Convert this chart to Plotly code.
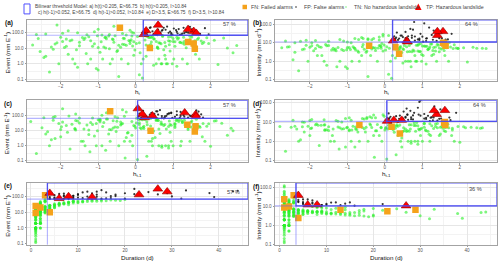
import numpy as np
import plotly.graph_objects as go

# ---------------- rainfall events ----------------
# ordinary events
ord_ht = [-0.85, 0.42, -1.32, 1.12, -0.20, 0.75, -2.10, 0.05, -0.62, 1.55,
          -1.75, 0.98, -0.35, 2.35, -1.05, 0.25, -2.55, 1.70, -0.10, 0.60,
          -1.50, 0.15, 1.30, -0.78, -2.30, 0.88, -0.48, 1.95, -1.20, 0.35,
          -0.05, 1.45, -1.90, 0.70, -0.92, 2.60, -0.30, 1.05, -1.62, 0.48,
          -2.75, 1.25, -0.55, 0.92, -1.38, 0.10, 1.82, -0.70, -2.00, 0.55,
          -0.15, 1.60, -1.10, 0.30, -2.40, 0.80, -0.40, 2.10, -1.55, 1.15,
          -0.95, 0.65, -1.85, 1.38, -0.25, 0.95, -2.20, 0.20, 1.75, -0.82,
          -1.28, 0.40, 2.45, -0.60, -1.68, 0.72, -0.02, 1.20, -2.60, 0.85,
          -0.45, 1.50, -1.15, 0.28, -1.95, 1.02, -0.72, 0.58, 2.20, -0.12,
          -1.42, 0.12, 1.65, -0.88, -2.15, 0.68, -0.33, 1.35, -1.00, 0.45,
          -0.58, 1.90, -1.80, 0.02, 1.10, -1.25, 0.78, -0.18, 2.70, -0.68,
          -2.45, 0.50, -1.58, 1.28, -0.38, 0.90, -1.02, 0.18, 1.58, -0.80,
          -1.35, 0.62, -0.08, 1.00, -2.05, 0.38, -0.50, 1.42, -1.70, 0.82]
ord_ht1 = [-0.70, 0.31, -1.10, 1.25, -0.45, 0.92, -1.85, 0.18, -0.30, 1.40,
           -2.05, 0.70, -0.55, 2.10, -0.80, 0.02, -2.40, 1.85, 0.12, 0.48,
           -1.62, -0.08, 1.05, -0.95, -2.65, 1.10, -0.22, 1.70, -1.45, 0.55,
           -0.25, 1.62, -1.60, 0.45, -1.15, 2.45, -0.10, 0.82, -1.35, 0.70,
           -2.50, 1.45, -0.78, 0.65, -1.20, 0.30, 1.55, -0.52, -2.20, 0.80,
           -0.38, 1.78, -0.88, 0.08, -2.15, 0.95, -0.65, 2.30, -1.75, 0.90,
           -1.25, 0.40, -1.95, 1.20, 0.00, 1.15, -2.35, 0.35, 1.95, -0.60,
           -1.05, 0.20, 2.60, -0.85, -1.40, 0.58, -0.20, 1.35, -2.80, 0.62,
           -0.28, 1.30, -1.38, 0.45, -1.70, 1.22, -0.95, 0.35, 2.00, 0.10,
           -1.60, -0.10, 1.48, -0.68, -1.98, 0.88, -0.50, 1.58, -1.22, 0.25,
           -0.40, 2.15, -2.00, 0.22, 0.88, -1.00, 0.52, -0.35, 2.55, -0.90,
           -2.25, 0.68, -1.82, 1.08, -0.15, 1.05, -0.75, 0.05, 1.80, -1.02,
           -1.55, 0.42, 0.15, 0.78, -2.30, 0.60, -0.72, 1.65, -1.50, 1.00]
ord_E = [12.0, 25.0, 4.5, 38.0, 1.0, 8.0, 22.0, 55.0, 2.0, 15.0,
         30.0, 1.0, 18.0, 45.0, 0.5, 33.0, 6.0, 2.0, 60.0, 9.5,
         14.0, 1.0, 27.0, 40.0, 0.3, 52.0, 7.0, 20.0, 2.0, 48.0,
         3.5, 58.0, 11.0, 1.0, 26.0, 5.0, 42.0, 13.0, 1.0, 0.8,
         16.0, 2.0, 62.0, 6.5, 35.0, 0.2, 24.0, 9.0, 50.0, 1.0,
         28.0, 4.0, 19.0, 57.0, 3.0, 2.0, 11.5, 32.0, 0.6, 44.0,
         5.5, 21.0, 39.0, 1.0, 15.0, 53.0, 8.5, 2.0, 29.0, 47.0,
         1.0, 17.0, 10.0, 36.0, 2.0, 64.0, 7.5, 23.0, 41.0, 1.0,
         0.15, 51.0, 13.0, 3.0, 27.0, 2.0, 59.0, 12.0, 0.9, 34.0,
         48.0, 5.0, 37.0, 2.0, 18.5, 1.0, 43.0, 10.5, 0.4, 56.0,
         24.0, 46.0, 4.0, 20.0, 0.7, 54.0, 3.5, 31.0, 14.5, 1.0,
         2.5, 38.5, 8.0, 49.0, 2.0, 16.5, 61.0, 0.12, 30.0, 10.0,
         44.5, 2.0, 13.5, 26.5, 1.0, 50.5, 6.0, 21.5, 33.5, 1.0]
ord_D = [2, 4, 1, 6, 1, 2, 3, 9, 1, 3,
         5, 1, 4, 8, 1, 7, 1, 2, 12, 3,
         2, 1, 5, 10, 1, 15, 2, 4, 2, 11,
         1, 18, 3, 2, 6, 1, 8, 2, 1, 1,
         3, 1, 14, 2, 7, 1, 5, 3, 9, 1,
         4, 2, 5, 13, 1, 1, 2, 6, 1, 10,
         1, 3, 8, 1, 4, 16, 2, 1, 5, 9,
         2, 3, 2, 6, 1, 20, 1, 4, 7, 1,
         1, 11, 3, 2, 4, 1, 17, 2, 1, 5,
         12, 1, 7, 2, 4, 1, 8, 3, 1, 19,
         3, 9, 2, 5, 1, 10, 1, 6, 3, 1,
         2, 9, 1, 13, 1, 2, 15, 1, 8, 2,
         11, 2, 1, 4, 1, 14, 2, 3, 6, 1]
ord_I = [6.0, 6.2, 4.5, 6.3, 1.0, 4.0, 7.3, 6.1, 2.0, 5.0,
         6.0, 1.0, 4.5, 5.6, 0.5, 4.7, 6.0, 1.0, 5.0, 3.2,
         7.0, 1.0, 5.4, 4.0, 0.3, 3.5, 3.5, 5.0, 1.0, 4.4,
         3.5, 3.2, 3.7, 0.5, 4.3, 5.0, 5.3, 6.5, 1.0, 0.8,
         5.3, 2.0, 4.4, 3.3, 5.0, 0.2, 4.8, 3.0, 5.6, 1.0,
         7.0, 2.0, 3.8, 4.4, 3.0, 2.0, 5.8, 5.3, 0.6, 4.4,
         5.5, 7.0, 4.9, 1.0, 3.8, 3.3, 4.3, 2.0, 5.8, 5.2,
         0.5, 5.7, 5.0, 6.0, 2.0, 3.2, 7.5, 5.8, 5.9, 1.0,
         0.15, 4.6, 4.3, 1.5, 6.8, 2.0, 3.5, 6.0, 0.9, 6.8,
         4.0, 5.0, 5.3, 1.0, 4.6, 1.0, 5.4, 3.5, 0.4, 2.9,
         8.0, 5.1, 2.0, 4.0, 0.7, 5.4, 3.5, 5.2, 4.8, 1.0,
         1.2, 4.3, 8.0, 3.8, 2.0, 8.2, 4.1, 0.12, 3.8, 5.0,
         4.0, 1.0, 9.0, 6.6, 1.0, 3.6, 3.0, 7.2, 5.6, 1.0]

# short intense events
int_ht = [0.35, 0.62, 1.05, 0.48, 1.30, 0.25, 0.88, 1.62, 0.72, 1.18,
          0.42, 1.78, 0.95, 0.28, 1.45, 0.55, 1.10, 0.80, 1.38, 0.68,
          1.00, 0.32, 1.52, 0.92, 1.25, 0.58, 1.68, 0.78, -0.45, -1.20,
          -0.15, -1.85, -0.80, -0.05, -1.50, -0.30, -2.25, -0.62, 0.10, -1.00]
int_ht1 = [0.22, 0.75, 0.92, 0.30, 1.48, 0.40, 1.05, 1.40, 0.55, 1.32,
           0.60, 1.90, 0.78, 0.12, 1.25, 0.68, 1.22, 0.62, 1.58, 0.88,
           1.15, 0.50, 1.72, 0.70, 1.05, 0.38, 1.50, 0.95, -0.60, -1.05,
           -0.02, -1.62, -0.95, 0.10, -1.30, -0.48, -2.00, -0.40, -0.05, -1.25]
int_E = [14.0, 22.0, 26.0, 40.0, 18.0, 65.0, 30.0, 12.0, 55.0, 24.0,
         48.0, 20.0, 90.0, 16.0, 35.0, 27.0, 50.0, 13.0, 25.0, 19.0,
         42.0, 105.0, 17.0, 28.0, 21.0, 11.0, 45.0, 23.0, 15.0, 30.0,
         20.0, 13.0, 50.0, 26.0, 24.0, 17.0, 12.0, 38.0, 22.0, 11.0]
int_D = [1, 1, 1, 2, 1, 3, 2, 1, 3, 1,
         2, 1, 3, 1, 2, 1, 3, 1, 2, 1,
         2, 3, 1, 2, 1, 1, 3, 1, 1, 2,
         1, 1, 3, 1, 2, 1, 1, 2, 1, 1]
int_I = [14.0, 22.0, 110.0, 20.0, 45.0, 21.7, 15.0, 12.0, 18.3, 65.0,
         24.0, 30.0, 30.0, 16.0, 17.5, 38.0, 16.7, 13.0, 12.5, 55.0,
         21.0, 35.0, 17.0, 14.0, 26.0, 11.5, 15.0, 130.0, 15.0, 15.0,
         20.0, 13.0, 16.7, 28.0, 12.0, 17.0, 12.0, 19.0, 24.0, 11.0]

# long events
long_ht = [0.30, 0.45, 0.62, 0.80, 0.95, 1.10, 1.25, 0.38, 0.52, 0.70,
           0.88, 1.02, 1.18, 1.35, 1.50, 0.25, 0.58, 0.75, 0.92, 1.08,
           1.22, 1.40, 1.58, 1.72, 1.85, 0.33, 0.48, 0.66, 0.84, 0.98,
           1.15, 1.30, 1.45, 0.40, 0.55, 0.72, 1.12, 1.62, 0.22, 1.28,
           0.60, 1.95, -0.35, -1.10, -2.10, -0.70, -1.55, -0.15, -0.90, -1.80,
           -0.45, -2.40, -0.05, -1.30, -0.58, -1.95, -0.25, -1.00, -2.65, -0.10]
long_ht1 = [0.15, 0.60, 0.48, 0.95, 0.78, 1.28, 1.05, 0.55, 0.32, 0.85,
            0.70, 1.20, 0.98, 1.52, 1.35, 0.08, 0.75, 0.58, 1.10, 0.88,
            1.40, 1.20, 1.75, 1.55, 1.68, 0.50, 0.28, 0.82, 0.65, 1.18,
            0.95, 1.48, 1.62, 0.20, 0.70, 0.90, 1.30, 1.45, 0.38, 1.10,
            0.42, 1.80, -0.55, -0.90, -1.95, -0.48, -1.78, 0.10, -1.15, -1.60,
            -0.25, -2.20, -0.30, -1.50, -0.35, -2.15, 0.03, -0.78, -2.45, 0.25]
long_E = [75.0, 120.0, 90.0, 150.0, 70.0, 110.0, 85.0, 200.0, 78.0, 130.0,
          95.0, 180.0, 72.0, 105.0, 160.0, 88.0, 68.0, 200.0, 115.0, 140.0,
          76.0, 98.0, 125.0, 82.0, 190.0, 135.0, 80.0, 100.0, 240.0, 73.0,
          165.0, 92.0, 230.0, 210.0, 70.0, 145.0, 86.0, 102.0, 118.0, 200.0,
          155.0, 77.0, 85.0, 110.0, 300.0, 75.0, 95.0, 140.0, 70.0, 130.0,
          180.0, 80.0, 92.0, 72.0, 250.0, 88.0, 68.0, 160.0, 74.0, 105.0]
long_D = [4, 5, 6, 7, 8, 9, 10, 12, 11, 14,
          13, 16, 15, 18, 20, 6, 5, 4, 7, 22,
          9, 12, 10, 8, 25, 27, 17, 30, 33, 32,
          38, 39, 44, 43, 4, 6, 5, 7, 8, 14,
          13, 16, 6, 9, 22, 5, 14, 10, 7, 18,
          11, 8, 4, 20, 15, 9, 13, 29, 6, 17]
long_I = [18.8, 24.0, 15.0, 21.4, 8.8, 12.2, 8.5, 16.7, 7.1, 9.3,
          7.3, 11.3, 4.8, 5.8, 8.0, 14.7, 13.6, 50.0, 16.4, 6.4,
          8.4, 8.2, 12.5, 10.3, 7.6, 5.0, 4.7, 3.3, 7.3, 2.3,
          4.3, 2.4, 5.2, 4.9, 17.5, 24.2, 17.2, 14.6, 14.8, 14.3,
          11.9, 4.8, 14.2, 12.2, 13.6, 15.0, 6.8, 14.0, 10.0, 7.2,
          16.4, 10.0, 23.0, 3.6, 16.7, 9.8, 5.2, 5.5, 12.3, 6.2]

# hazardous landslide events
ls_ht = [1.40, 1.58, 1.55, 1.55, 0.38, 1.40, 0.22, 0.58, 1.62, 0.28, 0.60, -0.42]
ls_ht1 = [1.38, 1.58, 1.60, 1.60, 0.40, 1.31, 0.24, 0.45, 1.61, 0.18, 0.06, -0.68]
ls_E = [25, 9, 20, 120, 10, 160, 75, 100, 90, 130, 300, 200]
ls_D = [1, 1, 2, 3, 4, 4, 6, 8, 13, 23, 27, 29]
ls_I = [25, 9, 10, 40, 2.5, 40, 12.5, 12.5, 6.9, 5.65, 11.1, 6.9]

# model thresholds per panel, and panel texts
panel_tags = ["(a)", "(b)", "(c)", "(d)", "(e)", "(f)"]
x_keys = ["ht", "ht", "ht1", "ht1", "D", "D"]
y_keys = ["E", "I", "E", "I", "E", "I"]
thr_x = [0.205, 0.205, 0.052, 0.052, 3.5, 3.5]
thr_y = [66.75, 10.84, 66.75, 10.84, 66.75, 10.84]
pct_text = ["57 %", "64 %", "57 %", "64 %", "57 %", "36 %"]
x_titles = ["h<sub>t</sub>", "h<sub>t</sub>", "h<sub>t-1</sub>", "h<sub>t-1</sub>",
            "Duration (d)", "Duration (d)"]
y_titles = ["Event (mm E<sup>-1</sup>)", "Intensity (mm d<sup>-1</sup>)"] * 3
h_ticks = [-2, -1, 0, 1, 2]
d_ticks = [0, 10, 20, 30, 40]
y_ticks = [0.1, 1, 10, 100]
y_ticktext = ["0.1", "1.0", "10.0", "100.0"]
legend_line1 = "Bilinear threshold Model: a) h(t)>0.205, E>66.75  b) h(t)>0.205, I>10.84"
legend_line2 = ("c) h(t-1)>0.052, E>66.75  d) h(t-1)>0.052, I>10.84  "
                "e) D>3.5, E>66.75  f) D>3.5, I>10.84")
legend_items = ["FN: Failed alarms", "FP: False alarms",
                "TN: No hazardous landslide", "TP: Hazardous landslide"]

ev = {
    "ht": np.array(ord_ht + int_ht + long_ht),
    "ht1": np.array(ord_ht1 + int_ht1 + long_ht1),
    "E": np.array(ord_E + int_E + long_E),
    "D": np.array(ord_D + int_D + long_D, dtype=float),
    "I": np.array(ord_I + int_I + long_I),
}
ls = {"ht": np.array(ls_ht), "ht1": np.array(ls_ht1), "E": np.array(ls_E, dtype=float),
      "D": np.array(ls_D, dtype=float), "I": np.array(ls_I)}

# ---------------- layout geometry ----------------
W, H = 500, 266
FONT = "Liberation Sans, Arial, sans-serif"
x_dom = [[27 / W, 248 / W], [275 / W, 497 / W]]
y_px = [(20, 82), (101, 163.5), (184.3, 246.5)]
y_dom = [[1 - b / H, 1 - t / H] for t, b in y_px]
x_ranges = [[-2.9, 3.0], [-2.93, 2.99], [-2.9, 3.0], [-2.93, 2.99], [-0.85, 46.2], [-0.98, 46.4]]
y_ranges = [[-1.13, 2.81], [-1.09, 2.23], [-1.11, 3.04], [-1.09, 2.13], [-1.06, 2.86], [-1.02, 2.26]]
pct_pos = [(0.918, 0.935), (0.886, 0.935), (0.918, 0.925), (0.923, 0.925), (0.933, 0.845), (0.905, 0.90)]
tag_px = [(9.3, 22.7), (256.7, 23.3), (8.3, 104.3), (256.7, 105), (8.3, 187.7), (256.5, 188.3)]
ytitle_x = [7.0, 258.0]
xtitle_y = [93.0, 175.2, 259.3]

GREEN = "rgba(40,240,40,0.6)"
BLACK = "rgba(20,20,20,0.85)"
ORANGE = "#F5A21B"
RED = "#FF0000"
BLUE_LIGHT = "rgba(90,90,255,0.45)"
BLUE_DARK = "rgba(70,70,240,0.9)"
TICK_SIZE = 4.6
TITLE_SIZE = 6.2


def note(text, x, y, size, color="#222", xref="paper", yref="paper", angle=0,
         xanchor="center", yanchor="middle"):
    return dict(text=text, xref=xref, yref=yref, x=x, y=y, textangle=angle, showarrow=False,
                xanchor=xanchor, yanchor=yanchor, font=dict(size=size, color=color, family=FONT))


fig = go.Figure()
shapes, annotations = [], []
layout = {}

for i in range(6):
    s = "" if i == 0 else str(i + 1)
    col, row = i % 2, i // 2
    xk, yk = x_keys[i], y_keys[i]
    x, y = ev[xk], ev[yk]
    alarm = (x > thr_x[i]) & (y > thr_y[i])
    common = dict(mode="markers", xaxis="x" + s, yaxis="y" + s, hoverinfo="skip", showlegend=False)
    fig.add_trace(go.Scatter(x=x[~alarm], y=y[~alarm], marker=dict(size=3, color=GREEN, line_width=0), **common))
    fig.add_trace(go.Scatter(x=x[alarm], y=y[alarm], marker=dict(size=2.2, color=BLACK, line_width=0), **common))
    lx, ly = ls[xk], ls[yk]
    hit = (lx > thr_x[i]) & (ly > thr_y[i])
    fig.add_trace(go.Scatter(x=lx[~hit], y=ly[~hit], marker=dict(size=6.5, symbol="square", color=ORANGE,
                                                                  line=dict(width=0)), **common))
    fig.add_trace(go.Scatter(x=lx[hit], y=ly[hit], marker=dict(size=8.5, symbol="triangle-up", color=RED,
                                                                line=dict(width=0.6, color="#8a0000")), **common))

    is_h = xk != "D"
    layout["xaxis" + s] = dict(
        domain=x_dom[col], range=x_ranges[i], anchor="y" + s,
        tickvals=h_ticks if is_h else d_ticks,
        minor=dict(dtick=1 if is_h else 10, tick0=0.5 if is_h else 5, showgrid=True, gridcolor="#f3f3f3", ticks=""),
        showgrid=True, gridcolor="#e6e6e6", gridwidth=0.8, zeroline=False,
        showline=True, mirror=True, linecolor="#a3a3a3", linewidth=1,
        ticks="outside", ticklen=1.5, tickcolor="#999", tickwidth=0.6, ticklabelstandoff=-1,
        tickfont=dict(size=TICK_SIZE, color="#555", family=FONT),
    )
    layout["yaxis" + s] = dict(
        domain=y_dom[row], type="log", range=y_ranges[i], anchor="x" + s,
        tickvals=y_ticks, ticktext=y_ticktext,
        minor=dict(tickvals=[10 ** -0.5, 10 ** 0.5, 10 ** 1.5, 10 ** 2.5], showgrid=True, gridcolor="#f3f3f3", ticks=""),
        showgrid=True, gridcolor="#e6e6e6", gridwidth=0.8, zeroline=False,
        showline=True, mirror=True, linecolor="#a3a3a3", linewidth=1,
        ticks="outside", ticklen=1.5, tickcolor="#999", tickwidth=0.6,
        tickfont=dict(size=TICK_SIZE, color="#555", family=FONT),
    )

    # threshold lines and alarm box
    shapes.append(dict(type="line", xref="x" + s, yref="y" + s + " domain", x0=thr_x[i], x1=thr_x[i],
                       y0=0, y1=1, line=dict(color=BLUE_LIGHT, width=1.2), layer="above"))
    shapes.append(dict(type="line", xref="x" + s + " domain", yref="y" + s, x0=0, x1=1,
                       y0=thr_y[i], y1=thr_y[i], line=dict(color=BLUE_LIGHT, width=1.2), layer="above"))
    shapes.append(dict(type="rect", xref="x" + s, yref="y" + s, x0=thr_x[i], x1=x_ranges[i][1],
                       y0=thr_y[i], y1=10 ** y_ranges[i][1], line=dict(color=BLUE_DARK, width=1.3),
                       layer="above"))

    annotations.append(note(pct_text[i], pct_pos[i][0], pct_pos[i][1], 5.6, "#444",
                            xref="x" + s + " domain", yref="y" + s + " domain"))
    tx, ty = tag_px[i]
    annotations.append(note("<b>" + panel_tags[i] + "</b>", tx / W, 1 - ty / H, 6.5, "#111"))
    yc = (y_px[row][0] + y_px[row][1]) / 2 + 2
    annotations.append(note(y_titles[i], ytitle_x[col] / W, 1 - yc / H, TITLE_SIZE, "#111", angle=-90))
    xc = (x_dom[col][0] + x_dom[col][1]) / 2
    annotations.append(note(x_titles[i], xc, 1 - xtitle_y[row] / H, TITLE_SIZE, "#111"))

# ---------------- legend (drawn by hand) ----------------
def P(px_, py_):
    return px_ / W, 1 - py_ / H

x0, y0 = P(24, 14); x1, y1 = P(30, 4)
shapes.append(dict(type="rect", xref="paper", yref="paper", x0=x0, x1=x1, y0=y0, y1=y1,
                   line=dict(color="rgb(80,80,255)", width=1)))
annotations.append(note(legend_line1, *P(33, 6.3), 4.8, "#444", xanchor="left"))
annotations.append(note(legend_line2, *P(36, 13.0), 4.8, "#444", xanchor="left"))
# FN square
x0, y0 = P(242.5, 9.3); x1, y1 = P(247, 4.8)
shapes.append(dict(type="rect", xref="paper", yref="paper", x0=x0, x1=x1, y0=y0, y1=y1,
                   fillcolor=ORANGE, line=dict(width=0)))
# FP dot
x0, y0 = P(295.2, 7.9); x1, y1 = P(296.8, 6.3)
shapes.append(dict(type="circle", xref="paper", yref="paper", x0=x0, x1=x1, y0=y0, y1=y1,
                   fillcolor="#222", line=dict(width=0)))
# TN dot
x0, y0 = P(345.2, 7.9); x1, y1 = P(346.8, 6.3)
shapes.append(dict(type="circle", xref="paper", yref="paper", x0=x0, x1=x1, y0=y0, y1=y1,
                   fillcolor="rgb(120,240,120)", line=dict(width=0)))
# TP triangle
a = P(415, 10.2); b = P(421.6, 10.2); c = P(418.3, 3.6)
shapes.append(dict(type="path", xref="paper", yref="paper",
                   path=f"M {a[0]} {a[1]} L {b[0]} {b[1]} L {c[0]} {c[1]} Z",
                   fillcolor=RED, line=dict(width=0)))
for txt, xpx in zip(legend_items, [248.8, 301.5, 351.5, 424.0]):
    annotations.append(note(txt, *P(xpx, 7.3), 5.3, "#444", xanchor="left"))

fig.update_layout(
    width=W, height=H, margin=dict(l=0, r=0, t=0, b=0),
    paper_bgcolor="white", plot_bgcolor="white", hovermode=False,
    font=dict(family=FONT), shapes=shapes, annotations=annotations, showlegend=False,
    **layout,
)
# remove the browser's default page margin so the 500x266 figure fills the window
fig.write_html("out.html", config={"displayModeBar": False},
               post_script="document.body.style.margin='0';")
